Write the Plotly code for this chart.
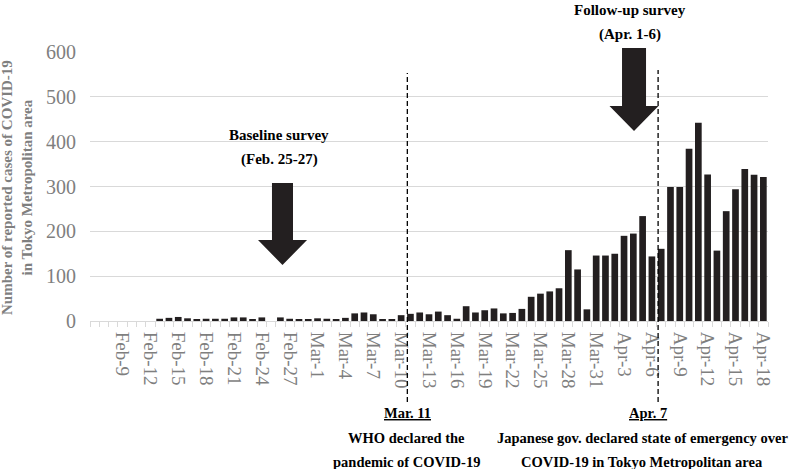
import pandas as pd
import plotly.graph_objects as go

# daily reported cases, Tokyo Metropolitan area (Feb 6 - Apr 18, 2020)
dates = pd.date_range("2020-02-06", "2020-04-18")
feb_cases = [0, 0, 0, 0, 0, 0, 0,
             5, 7, 9, 6, 3, 5, 5, 5, 8, 8, 3, 8, 0, 8, 5, 4, 3]
mar_cases = [6, 5, 4, 7, 17, 19, 15, 4, 4, 13, 16, 19, 15, 21, 13, 5,
             33, 19, 24, 28, 17, 18, 27, 54, 61, 66, 73, 158, 115, 26, 146]
apr_cases = [146, 150, 190, 195, 234, 144, 161, 299, 299, 384, 442, 327,
             157, 245, 294, 339, 326, 321]
cases = feb_cases + mar_cases + apr_cases

# labelled days: Feb-9, Feb-12, ... Apr-18
tick_dates = dates[3::3]

events = ["2020-03-11", "2020-04-07"]

BAR = "#231f20"
GRAY = "#7f7f7f"
SERIF = "Liberation Serif, Times New Roman, serif"

W, H = 792, 469
L, R, T, B = 90, 24, 52, 148
PW, PH = W - L - R, H - T - B


def px(x, y):
    # pixel position -> paper coords
    return (x - L) / PW, (H - B - y) / PH


def arrow(cx, top, neck, tip, shaft, head):
    pts = [(cx - shaft, top), (cx + shaft, top), (cx + shaft, neck),
           (cx + head, neck), (cx, tip), (cx - head, neck), (cx - shaft, neck)]
    pts = [px(a, b) for a, b in pts]
    path = "M " + " L ".join(f"{a:.4f},{b:.4f}" for a, b in pts) + " Z"
    return dict(type="path", xref="paper", yref="paper", path=path,
                fillcolor=BAR, line=dict(width=0))


fig = go.Figure(go.Bar(x=dates, y=cases, marker_color=BAR, marker_line_width=0))

shapes = [arrow(282.5, 183, 240, 265, 10.5, 24.5),
          arrow(634, 48, 106, 131, 12, 24.5)]
for d, top in zip(events, [73, 70]):
    xline = pd.Timestamp(d) - pd.Timedelta(hours=8)
    shapes.append(dict(type="line", xref="x", yref="paper",
                       x0=xline, x1=xline, y0=px(0, 402)[1], y1=px(0, top)[1],
                       line=dict(color="black", width=1.3, dash="5px,3px")))

notes = [
    ("Follow-up survey", 630, 10, 15),
    ("(Apr. 1-6)", 630, 34, 15),
    ("Baseline survey", 279, 135, 15),
    ("(Feb. 25-27)", 279, 159, 15),
    ("<u>Mar. 11</u>", 407, 413, 14.5),
    ("WHO declared the", 406, 438, 14.5),
    ("pandemic of COVID-19", 406, 462, 14.5),
    ("<u>Apr. 7</u>", 648, 413, 14.5),
    ("Japanese gov. declared state of emergency over", 642, 438, 14.5),
    ("COVID-19 in Tokyo Metropolitan area", 642, 462, 14.5),
]
annotations = []
for text, x, y, size in notes:
    ax, ay = px(x, y)
    annotations.append(dict(text="<b>" + text + "</b>", x=ax, y=ay,
                            xref="paper", yref="paper", showarrow=False,
                            xanchor="center", yanchor="middle",
                            font=dict(family=SERIF, size=size, color="black")))

# y axis title, placed by hand so it sits at the left edge
tx, ty = px(17, 188)
annotations.append(dict(
    text="<b>Number of reported cases of COVID-19<br>in Tokyo Metropolitan area</b>",
    x=tx, y=ty, xref="paper", yref="paper", showarrow=False, textangle=-90,
    xanchor="center", yanchor="middle",
    font=dict(family=SERIF, size=15, color=GRAY)))

fig.update_layout(
    width=W, height=H,
    margin=dict(l=L, r=R, t=T, b=B),
    paper_bgcolor="white", plot_bgcolor="white",
    bargap=0.28, showlegend=False,
    shapes=shapes, annotations=annotations,
)
fig.update_xaxes(
    type="date",
    range=["2020-02-05 12:00", "2020-04-18 12:00"],
    tickmode="array", tickvals=tick_dates, tickformat="%b-%-d",
    tickangle=90, ticks="", ticklabelstandoff=6,
    tickfont=dict(family=SERIF, size=19, color=GRAY),
    showgrid=False, showline=True, linecolor="#d9d9d9", linewidth=1,
    minor=dict(ticks="outside", ticklen=5, tickcolor="#d9d9d9",
               dtick=86400000, tick0="2020-02-05 12:00", showgrid=False),
)
fig.update_yaxes(
    range=[0, 600], dtick=100,
    gridcolor="#d9d9d9", gridwidth=1, zeroline=False, showline=False,
    ticks="", ticklabelstandoff=13,
    tickfont=dict(family=SERIF, size=20, color=GRAY),
)

fig.write_html("out.html", config={"displayModeBar": False},
               post_script="document.body.style.margin='0';")
